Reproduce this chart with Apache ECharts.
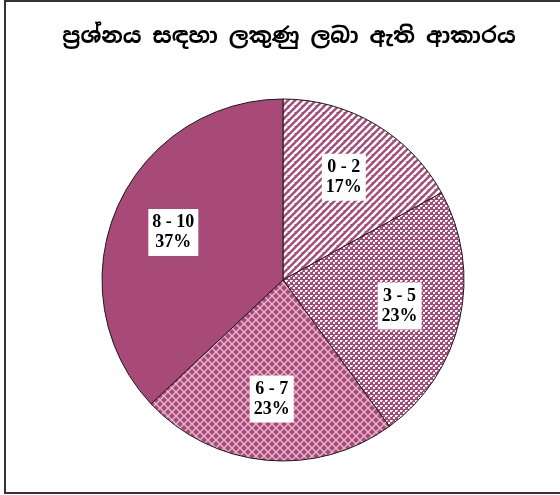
<!DOCTYPE html>
<html>
<head>
<meta charset="utf-8">
<script src="https://cdn.jsdelivr.net/npm/echarts@6/dist/echarts.min.js"></script>
<style>
  html, body { margin: 0; padding: 0; background: #fff; }
  #chart { width: 560px; height: 495px; }
</style>
</head>
<body>
<div id="chart"></div>
<script>
// Score bands and their share of answers (%)
const categories = ['0 - 2', '3 - 5', '6 - 7', '8 - 10'];
const shares = [17, 23, 23, 37];
const titleText = 'ප්‍රශ්නය සඳහා ලකුණු ලබා ඇති ආකාරය';

const BASE = '#A84A78';

// Tile builders for the hatched fills
function tile(size, draw) {
  const c = document.createElement('canvas');
  c.width = size; c.height = size;
  const g = c.getContext('2d');
  g.fillStyle = BASE;
  g.fillRect(0, 0, size, size);
  draw(g, size);
  return c;
}

const stripes = tile(7, (g, s) => {
  g.strokeStyle = '#ffffff';
  g.lineWidth = 2.6;
  g.beginPath();
  for (let k = -1; k <= 2; k++) {
    g.moveTo(k * s - s, 2 * s);
    g.lineTo(k * s + s, 0);
  }
  g.stroke();
});

const dots = tile(5, (g, s) => {
  g.fillStyle = '#ffffff';
  g.fillRect(0, 0, 2, 2);
  g.fillRect(3, 2, 2, 2);
  g.fillStyle = '#f3dbe7';
  g.fillRect(2, 0, 1, 1);
});

const lattice = tile(8, (g, s) => {
  g.strokeStyle = '#e9b6cf';
  g.lineWidth = 1.4;
  g.beginPath();
  g.moveTo(0, 0); g.lineTo(s, s);
  g.moveTo(0, s); g.lineTo(s, 0);
  g.stroke();
});

const fills = [
  { image: stripes, repeat: 'repeat' },
  { image: dots, repeat: 'repeat' },
  { image: lattice, repeat: 'repeat' },
  BASE
];

const sliceData = categories.map((name, i) => ({
  name, value: shares[i], itemStyle: { color: fills[i] }
}));

const labelData = categories.map((name, i) => ({ name, value: shares[i] }));

const chart = echarts.init(document.getElementById('chart'), null, { renderer: 'canvas' });

chart.setOption({
  animation: false,
  backgroundColor: '#ffffff',
  title: {
    text: titleText,
    left: 284,
    textAlign: 'center',
    top: 21,
    textStyle: {
      fontFamily: '"Noto Sans Sinhala", "Iskoola Pota", "Noto Sans", sans-serif',
      fontSize: 22,
      fontWeight: 'bold',
      color: '#000'
    }
  },
  graphic: [{
    type: 'rect',
    shape: { x: 5, y: 1, width: 570, height: 492 },
    style: { fill: 'none', stroke: '#333', lineWidth: 2 },
    silent: true
  }],
  series: [
    {
      type: 'pie',
      center: [283, 280],
      radius: [0, 181],
      startAngle: 90,
      clockwise: true,
      silent: true,
      label: { show: false },
      labelLine: { show: false },
      itemStyle: { borderColor: '#1a1a1a', borderWidth: 1 },
      data: sliceData
    },
    {
      // transparent ring that only carries the band labels
      type: 'pie',
      center: [283, 280],
      radius: [52, 181],
      startAngle: 90,
      clockwise: true,
      silent: true,
      itemStyle: { color: 'rgba(0,0,0,0)', borderWidth: 0 },
      labelLine: { show: false },
      label: {
        show: true,
        position: 'inside',
        formatter: '{b}\n{c}%',
        fontFamily: '"Liberation Serif", "Times New Roman", serif',
        fontWeight: 'bold',
        fontSize: 18,
        lineHeight: 20,
        color: '#000',
        backgroundColor: '#ffffff',
        padding: [4, 4, 3, 4]
      },
      data: labelData
    }
  ]
});
</script>
</body>
</html>
